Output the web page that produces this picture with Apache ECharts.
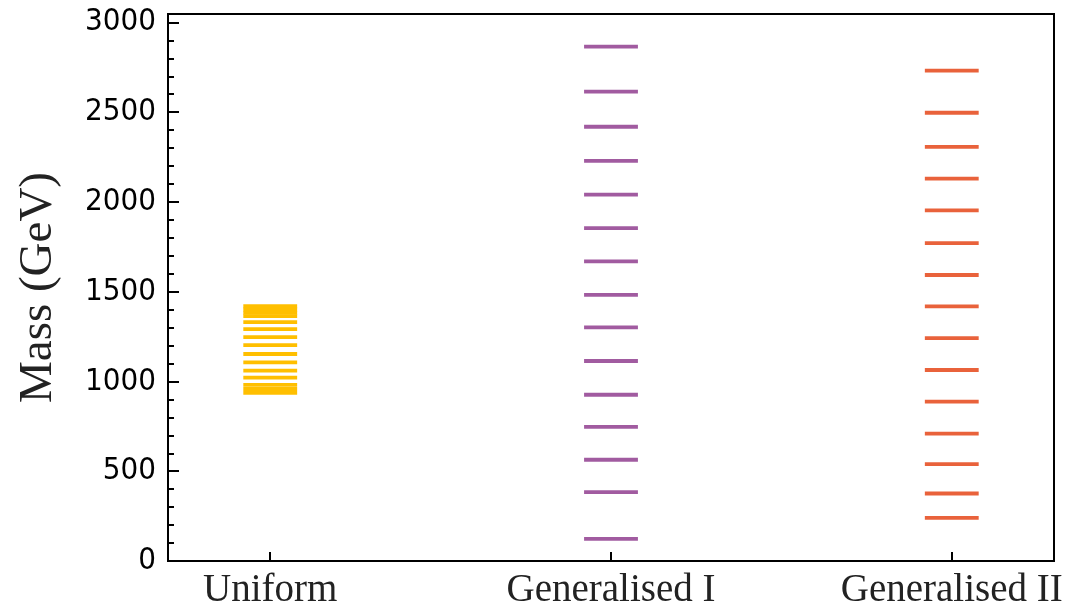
<!DOCTYPE html>
<html>
<head>
<meta charset="utf-8">
<script src="https://cdn.jsdelivr.net/npm/echarts@6/dist/echarts.min.js"></script>
<style>
html,body{margin:0;padding:0;background:#fff;}
#chart{width:1070px;height:610px;}
</style>
</head>
<body>
<div id="chart"></div>
<script>
// ---- data ----
const categories = ['Uniform', 'Generalised I', 'Generalised II'];
const uniformMasses = [1419, 1401, 1382, 1364, 1331, 1292, 1247, 1203, 1153, 1106, 1061, 1022, 981, 958, 936];
const generalisedIMasses = [2865, 2615, 2419, 2229, 2041, 1854, 1669, 1482, 1301, 1114, 926, 747, 564, 384, 123];
const generalisedIIMasses = [2732, 2497, 2307, 2130, 1953, 1771, 1593, 1418, 1242, 1064, 888, 710, 540, 376, 240];
const yMajorTicks = [0, 500, 1000, 1500, 2000, 2500, 3000];
const yMinorTicks = [];
for (let v = 100; v < 3000; v += 100) { if (v % 500 !== 0) yMinorTicks.push(v); }

const seriesData = [uniformMasses, generalisedIMasses, generalisedIIMasses];
const colors = ['#FFBF00', '#A15BA0', '#E9623B'];
const halfWidth = 0.079;

function makeSeries(idx) {
  return {
    type: 'custom',
    name: categories[idx],
    xAxisIndex: 0,
    yAxisIndex: 0,
    data: seriesData[idx].map(m => [idx, m]),
    renderItem: function (params, api) {
      const x = api.value(0), y = api.value(1);
      const p1 = api.coord([x - halfWidth, y]);
      const p2 = api.coord([x + halfWidth, y]);
      return {
        type: 'line',
        shape: { x1: p1[0], y1: p1[1], x2: p2[0], y2: p2[1] },
        style: { stroke: colors[idx], lineWidth: 3.8 }
      };
    }
  };
}

const chart = echarts.init(document.getElementById('chart'), null, { renderer: 'canvas' });
chart.setOption({
  animation: false,
  backgroundColor: '#fff',
  grid: {
    left: 168, right: 16, top: 14, bottom: 47.5,
    show: true, borderColor: '#000', borderWidth: 2, backgroundColor: 'transparent',
    containLabel: false
  },
  xAxis: {
    type: 'value', min: -0.3, max: 2.3,
    axisLine: { show: true, onZero: false, lineStyle: { color: '#000', width: 2 } },
    axisTick: { show: true, inside: true, length: 9, customValues: [0, 1, 2], lineStyle: { color: '#000', width: 2 } },
    axisLabel: {
      customValues: [0, 1, 2],
      formatter: v => categories[Math.round(v)],
      color: '#222', fontFamily: "'Liberation Serif', serif", fontSize: 39, margin: 10
    },
    splitLine: { show: false }
  },
  yAxis: [{
    type: 'value', min: 0, max: 3047, position: 'left',
    name: 'Mass (GeV)', nameLocation: 'middle', nameGap: 106,
    nameTextStyle: { fontFamily: "'Liberation Serif', serif", fontSize: 47, color: '#222' },
    axisLine: { show: true, onZero: false, lineStyle: { color: '#000', width: 2 } },
    axisTick: { show: true, inside: true, length: 11, customValues: yMajorTicks, lineStyle: { color: '#000', width: 2 } },
    axisLabel: {
      customValues: yMajorTicks,
      formatter: v => String(v),
      color: '#000', fontFamily: "'DejaVu Sans Condensed', 'DejaVu Sans', sans-serif", fontSize: 31, margin: 12
    },
    splitLine: { show: false }
  }, {
    type: 'value', min: 0, max: 3047, position: 'left', offset: 0,
    axisLine: { show: false, onZero: false },
    axisTick: { show: true, inside: true, length: 6, customValues: yMinorTicks, lineStyle: { color: '#000', width: 2 } },
    axisLabel: { show: false },
    splitLine: { show: false }
  }],
  series: [makeSeries(0), makeSeries(1), makeSeries(2)]
});
</script>
</body>
</html>
